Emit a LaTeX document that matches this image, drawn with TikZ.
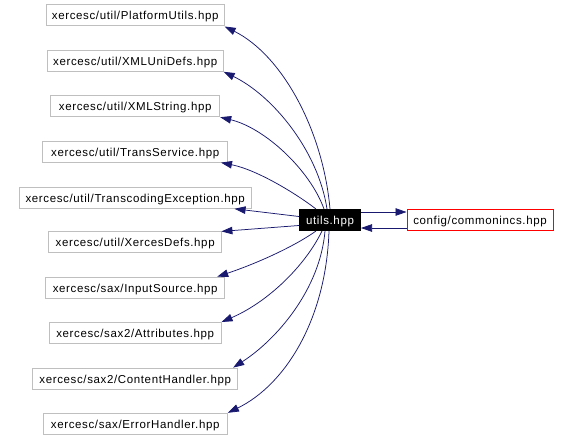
\documentclass[tikz,border=0pt]{standalone}
\usepackage{fontspec}
\setmainfont{Liberation Sans}[LetterSpace=5.5]
\usetikzlibrary{arrows.meta,calc}
\definecolor{edgeblue}{RGB}{25,25,112}
\definecolor{boxgray}{RGB}{191,191,191}
\tikzset{
  filebox/.style={draw=boxgray, line width=1pt, minimum height=21pt, inner sep=0pt, text height=9.5pt, text depth=0.5pt, font=\fontsize{11.5}{13}\selectfont, anchor=center},
  dep/.style={draw=edgeblue, line width=0.75pt, -{Triangle[length=11pt,width=7.5pt]}},
}
\begin{document}
\begin{tikzpicture}[x=1pt,y=-1pt]
\useasboundingbox[fill=white] (0,0) rectangle (569,441);
\node[filebox, minimum width=178pt] (n1) at (135.2,15.5) {xercesc/util/PlatformUtils.hpp};
\node[filebox, minimum width=176pt] (n2) at (135.2,60.8) {xercesc/util/XMLUniDefs.hpp};
\node[filebox, minimum width=169pt] (n3) at (135.2,106.2) {xercesc/util/XMLString.hpp};
\node[filebox, minimum width=184.6pt] (n4) at (135.2,151.6) {xercesc/util/TransService.hpp};
\node[filebox, minimum width=231.7pt] (n5) at (135.2,197.8) {xercesc/util/TranscodingException.hpp};
\node[filebox, minimum width=173.4pt] (n6) at (135.2,242.4) {xercesc/util/XercesDefs.hpp};
\node[filebox, minimum width=179pt] (n7) at (135.2,287.7) {xercesc/sax/InputSource.hpp};
\node[filebox, minimum width=171.7pt] (n8) at (135.2,333.0) {xercesc/sax2/Attributes.hpp};
\node[filebox, minimum width=205pt] (n9) at (135.2,378.6) {xercesc/sax2/ContentHandler.hpp};
\node[filebox, minimum width=184.4pt] (n10) at (135.2,423.8) {xercesc/sax/ErrorHandler.hpp};
\node[filebox, draw=black, fill=black, text=white, minimum width=61pt] (u) at (330,220) {utils.hpp};
\node[filebox, draw=red, minimum width=146pt] (c) at (480,220) {config/commonincs.hpp};
% edges to the left column
\draw[dep] ($(u.north)+(0,0)$) .. controls (323,130) and (282,55) .. (n1.south east);
\draw[dep] ($(u.north)+(-3,0)$) .. controls (318,150) and (272,95) .. (n2.south east);
\draw[dep] ($(u.north)+(-6,0)$) .. controls (310,170) and (265,128) .. (n3.south east);
\draw[dep] ($(u.north)+(-14,0)$) .. controls (298,195) and (258,170) .. ($(n4.south east)+(-7,0)$);
\draw[dep] ($(u.west)+(0,-3.5)$) -- ($(n5.south east)+(-17,0)$);
\draw[dep] ($(u.west)+(0,5.5)$) -- ($(n6.north east)+(-1,0)$);
\draw[dep] ($(u.south)+(-14,0)$) .. controls (295,246) and (258,263) .. ($(n7.north east)+(-8,0)$);
\draw[dep] ($(u.south)+(-8,0)$) .. controls (305,266) and (268,302) .. (n8.north east);
\draw[dep] ($(u.south)+(-5,0)$) .. controls (320,290) and (276,340) .. ($(n9.north east)+(-5,0)$);
\draw[dep] ($(u.south)+(-1,0)$) .. controls (326,320) and (285,385) .. (n10.north east);
% edges with config
\draw[dep] ($(u.east)+(0,-8)$) -- ($(c.west)+(0,-8)$);
\draw[dep] ($(c.west)+(0,8)$) -- ($(u.east)+(0,8)$);
\end{tikzpicture}
\end{document}
